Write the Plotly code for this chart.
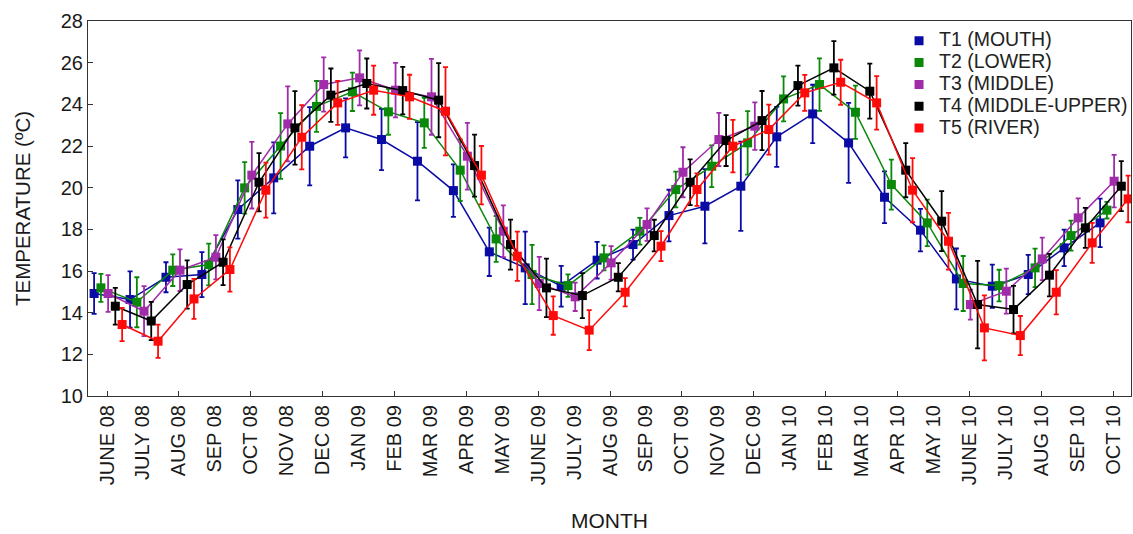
import plotly.graph_objects as go

months = ["JUNE 08", "JULY 08", "AUG 08", "SEP 08", "OCT 08", "NOV 08", "DEC 08",
          "JAN 09", "FEB 09", "MAR 09", "APR 09", "MAY 09", "JUNE 09", "JULY 09",
          "AUG 09", "SEP 09", "OCT 09", "NOV 09", "DEC 09", "JAN 10", "FEB 10",
          "MAR 10", "APR 10", "MAY 10", "JUNE 10", "JULY 10", "AUG 10", "SEP 10", "OCT 10"]

t1 = [14.92, 14.63, 15.70, 15.83, 18.95, 20.47, 21.99, 22.87, 22.31, 21.27, 19.86, 16.92, 16.15, 15.27,
      16.52, 17.27, 18.66, 19.11, 20.07, 22.44, 23.54, 22.15, 19.54, 17.96, 15.62, 15.27, 15.83, 17.11, 18.31]
t1_err = [0.98, 1.35, 0.72, 1.08, 1.40, 1.70, 1.88, 1.42, 1.47, 1.88, 1.26, 1.16, 1.74, 0.98,
          0.88, 0.72, 1.24, 1.78, 2.14, 1.44, 1.40, 1.92, 1.24, 1.02, 1.46, 1.04, 0.94, 0.88, 1.16]

t2 = [15.19, 14.50, 16.04, 16.31, 19.99, 22.00, 23.90, 24.60, 23.64, 23.11, 20.84, 17.54, 15.83, 15.30,
      16.63, 17.91, 19.91, 21.03, 22.15, 24.26, 24.95, 23.62, 20.15, 18.31, 15.40, 15.30, 16.15, 17.70, 18.92]
t2_err = [0.67, 1.20, 0.76, 1.00, 1.24, 1.58, 1.22, 0.92, 1.10, 1.20, 1.48, 1.10, 1.42, 0.54,
          0.60, 0.64, 0.86, 1.00, 1.52, 1.08, 1.26, 1.28, 1.20, 1.12, 1.32, 0.76, 0.92, 0.72, 0.40]

t3 = [14.92, 14.07, 16.04, 16.66, 20.60, 23.06, 24.95, 25.27, 24.68, 24.36, 21.51, 17.91, 15.40, 14.76,
      16.39, 18.23, 20.74, 22.31, 22.95, None, None, None, None, None, 14.39, 15.03, 16.58, 18.55, 20.31]
t3_err = [0.88, 1.20, 1.00, 1.06, 1.60, 1.80, 1.30, 1.32, 1.31, 1.82, 1.60, 1.24, 1.28, 0.68,
          0.80, 0.78, 1.20, 1.28, 1.14, None, None, None, None, None, 0.72, 1.08, 1.02, 0.94, 1.26]

t4 = [14.31, 13.60, 15.35, 16.42, 20.26, 22.87, 24.44, 25.00, 24.66, 24.20, 21.06, 17.27, 15.19, 14.82,
      15.70, 17.70, 20.26, 22.26, 23.22, 24.90, 25.75, 24.63, 20.84, 18.39, 14.39, 14.15, 15.80, 18.07, 20.07]
t4_err = [0.88, 0.92, 1.16, 1.10, 1.40, 1.76, 1.28, 1.20, 1.14, 1.78, 1.49, 1.20, 1.40, 1.08,
          0.68, 0.76, 1.10, 1.22, 1.42, 0.96, 1.28, 1.32, 1.30, 1.44, 2.10, 1.14, 1.02, 0.96, 1.20]

t5 = [13.43, 12.63, 14.66, 16.07, 19.88, 22.42, 24.07, 24.68, 24.36, 23.67, 20.60, 16.71, 13.86, 13.16,
      14.98, 17.19, 19.91, 21.99, 22.79, 24.55, 25.06, 24.07, 19.88, 17.43, 13.27, 12.90, 14.98, 17.35, 19.46]
t5_err = [0.80, 0.80, 0.96, 1.06, 1.32, 1.54, 1.06, 1.18, 1.06, 2.12, 1.40, 1.18, 0.92, 0.96,
          0.68, 0.72, 0.78, 1.26, 1.20, 0.86, 1.08, 1.28, 1.54, 1.36, 1.56, 0.94, 1.06, 0.96, 1.12]

series_names = ["T1 (MOUTH)", "T2 (LOWER)", "T3 (MIDDLE)", "T4 (MIDDLE-UPPER)", "T5 (RIVER)"]
series_vals = [t1, t2, t3, t4, t5]
series_errs = [t1_err, t2_err, t3_err, t4_err, t5_err]
colors = ["#0A0AA5", "#0A880A", "#A02CAA", "#000000", "#FF0A0A"]
offsets = [-0.36, -0.17, 0.03, 0.23, 0.42]

FONT = "Liberation Sans, Arial, sans-serif"
fig = go.Figure()

for name, vals, errs, col, off in zip(series_names, series_vals, series_errs, colors, offsets):
    xs = [i + off for i in range(len(months))]
    fig.add_trace(go.Scatter(
        x=xs, y=vals, mode="lines+markers", name=name, showlegend=False,
        line=dict(color=col, width=1.5),
        marker=dict(symbol="square", size=9, color=col),
        error_y=dict(type="data", array=errs, visible=True, color=col, thickness=1.8, width=2.5),
        connectgaps=False,
    ))

for name, col in zip(series_names, colors):
    fig.add_trace(go.Scatter(
        x=[None], y=[None], mode="markers",
        name='<span style="font-size:19.5px">' + name + '</span>',
        marker=dict(symbol="square", size=9, color=col),
    ))

fig.update_layout(
    width=1133, height=534,
    margin=dict(l=88, r=2, t=21, b=138, autoexpand=False),
    paper_bgcolor="white", plot_bgcolor="white",
    font=dict(family=FONT, size=20, color="#1a1a1a"),
    showlegend=True,
    legend=dict(x=0.7776, y=0.990, xanchor="left", yanchor="top",
                bgcolor="rgba(0,0,0,0)", font=dict(size=14.5, color="#222"),
                itemwidth=30, tracegroupgap=0),
)

fig.update_xaxes(
    range=[-0.53, 28.5],
    tickmode="array", tickvals=list(range(len(months))), ticktext=months,
    tickangle=-90, ticks="", showgrid=False, zeroline=False,
    showline=True, linecolor="#333", linewidth=1.2, mirror=True,
    tickfont=dict(size=20),
    minor=dict(tickmode="array", tickvals=list(range(0, len(months), 2)),
               ticks="inside", ticklen=5, tickcolor="#333", tickwidth=1, showgrid=False),
    title=dict(text="MONTH", font=dict(size=21), standoff=29),
)

fig.update_yaxes(
    range=[10, 28], tickmode="linear", tick0=10, dtick=2,
    ticks="inside", ticklen=5, tickcolor="#333",
    showgrid=False, zeroline=False,
    showline=True, linecolor="#333", linewidth=1.2, mirror=True,
    tickfont=dict(size=20),
    title=dict(text="TEMPERATURE (ºC)", font=dict(size=20.5), standoff=24),
)

fig.write_html("out.html")
